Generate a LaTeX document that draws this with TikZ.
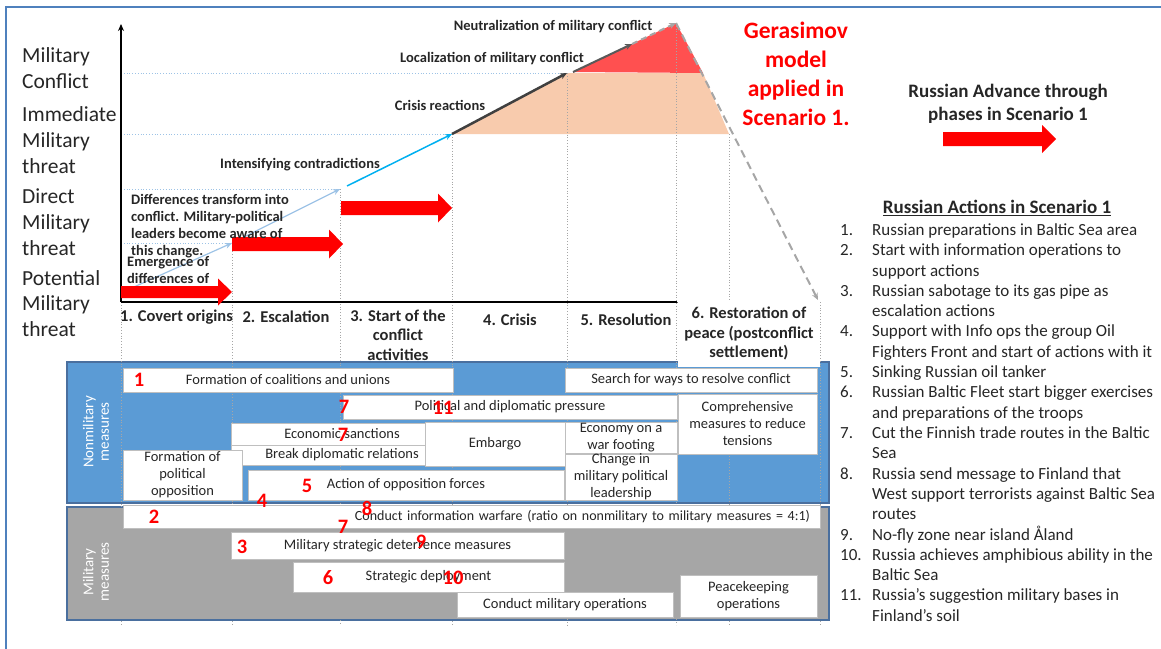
\documentclass[tikz,border=0pt]{standalone}
\usepackage{fontspec}
\setmainfont{Carlito}
\usepackage{tikz}
\usetikzlibrary{positioning,arrows.meta,shapes}
\definecolor{framec}{HTML}{4F81BD}
\definecolor{panelblue}{HTML}{5B9BD5}
\definecolor{panelgrey}{HTML}{A6A6A6}
\definecolor{panelline}{HTML}{4A6F9E}
\definecolor{boxline}{HTML}{BFBFBF}
\definecolor{txt}{HTML}{262626}
\definecolor{numred}{HTML}{FF0000}
\definecolor{advred}{HTML}{FF0000}
\definecolor{peach}{HTML}{F8CBAD}
\definecolor{tri}{HTML}{FF5050}
\definecolor{lblue}{HTML}{9DC3E6}
\definecolor{cyanar}{HTML}{00B0F0}
\definecolor{dgrey}{HTML}{404040}
\definecolor{mgrey}{HTML}{595959}
\definecolor{lgrey}{HTML}{A6A6A6}
\definecolor{hguidec}{HTML}{9DC3E6}
\definecolor{vguidec}{HTML}{A6A6A6}
\newcommand\fsz[2]{\fontsize{#1}{#2}\selectfont}
% fat red arrow: tail x, tip x, centre y, half shaft, half head
\newcommand\advarrow[5]{\fill[advred] (#1,#3-#4) -- (#2-14,#3-#4) -- (#2-14,#3-#5) -- (#2,#3) -- (#2-14,#3+#5) -- (#2-14,#3+#4) -- (#1,#3+#4) -- cycle;}

\begin{document}
\begin{tikzpicture}[x=1pt, y=-1pt, >={Stealth[width=6pt,length=7pt]},
	meas/.style={draw=boxline, fill=white, inner sep=0pt, align=center, text=txt, font=\fsz{14.5}{17}},
	num/.style={text=numred, font=\bfseries\fsz{20.5}{20}, inner sep=0pt},
	ylab/.style={anchor=base west, align=left, inner sep=0pt, text=txt, font=\fsz{21.5}{25.8}},
	phase/.style={align=center, inner sep=0pt, text=txt, font=\bfseries\fsz{16.5}{19.5}},
	chartlbl/.style={inner sep=0pt, text=txt, font=\bfseries\fsz{14.5}{17}},
	hguide/.style={dotted, draw=hguidec, line width=0.8pt},
	vguide/.style={dotted, draw=vguidec, line width=0.8pt},
	panel/.style={draw=panelline, line width=1.5pt}]
	\useasboundingbox (0,0) rectangle (1161,648);
	\draw[framec, line width=2.5pt] (6,7) rectangle (1175,662);
	% chart points
	\coordinate (origin) at (121,302);
	\coordinate (ytop) at (121,24);
	\coordinate (xmid) at (677,302);
	\coordinate (xend) at (820,302);
	\coordinate (p0) at (125,291);
	\coordinate (p1) at (232,243);
	\coordinate (p2) at (340,189);
	\coordinate (p3) at (347,186);
	\coordinate (p4) at (452,134);
	\coordinate (p5) at (567,73);
	\coordinate (p6) at (573,72);
	\coordinate (p7) at (632,44);
	\coordinate (p8) at (676,23);
	\coordinate (q1) at (703,73);
	\coordinate (q2) at (729,134);
	\coordinate (q3) at (818,300);
	\foreach \yy/\xx in {73/567,134/452,189/340,243/232}
		\draw[hguide] (121,\yy) -- (\xx,\yy);
	\fill[peach] (p4) -- (p5) -- (q1) -- (q2) -- cycle;
	\fill[tri] (p6) -- (p8) -- (q1) -- cycle;
	% panels
	\draw[panel, fill=panelblue] (67,362) rectangle (829,503);
	\draw[panel, fill=panelgrey] (67,507) rectangle (829,620);
	\foreach \xx/\yy in {121/302,232/243,340/189,452/134,567/73,676/23,729/134,820/302}
		\draw[vguide] (\xx,\yy) -- (\xx,625);
	% path of the conflict
	\draw[->, lblue, line width=1.2pt] (p0) -- (p1);
	\draw[->, lblue, line width=1.2pt] (p1) -- (p2);
	\draw[->, cyanar, line width=1.5pt] (p3) -- (p4);
	\draw[->, dgrey, line width=2.5pt] (p4) -- (p5);
	\draw[->, mgrey, line width=2pt] (p6) -- (p7);
	\draw[->, lgrey, line width=2pt, dash pattern=on 6pt off 4pt] (p7) -- (p8);
	\draw[->, lgrey, line width=2pt, dash pattern=on 8pt off 5pt] (p8) -- (q3);
	\draw[->, line width=1.8pt] (origin) -- (ytop);
	\draw[line width=2.5pt] (origin) -- (xmid);
	\draw[mgrey, line width=0.6pt] (xmid) -- (xend);
	% advance arrows
	\advarrow{121}{232}{292}{6}{13.5}
	\advarrow{232}{343}{244}{7}{14.5}
	\advarrow{341}{452}{208}{7}{14.5}
	\advarrow{943}{1056}{139}{7}{14}
	% threat levels
	\node[ylab] (conflict) at (22,88.3) {Military\\Conflict};
	\node[ylab] (immediate) at (22,173.3) {Immediate\\Military\\threat};
	\node[ylab] (direct) at (22,255) {Direct\\Military\\threat};
	\node[ylab] (potential) at (22,336.7) {Potential\\Military\\threat};
	% chart labels
	\node[chartlbl] (neutr) at (553,27) {Neutralization of military conflict};
	\node[chartlbl] (local) at (492,59) {Localization of military conflict};
	\node[chartlbl] (crisisr) at (440,105) {Crisis reactions};
	\node[chartlbl] (intens) at (300,165) {Intensifying contradictions};
	\node[chartlbl, anchor=north west, align=left] (differ) at (131,194) {Differences transform into\\conflict. Military-political\\leaders become aware of\\this change.};
	\node[chartlbl, anchor=north west, align=left] (emerg) at (127,256) {Emergence of\\differences of};
	% phases
	\node[phase] (ph1) at (176.5,317) {1. Covert origins};
	\node[phase] (ph2) at (286,317) {2. Escalation};
	\node[phase] (ph3) at (398,335) {3. Start of the\\conflict\\activities};
	\node[phase] (ph4) at (510,320) {4. Crisis};
	\node[phase] (ph5) at (626,320) {5. Resolution};
	\node[phase, fill=white, minimum width=142pt, minimum height=67pt] (ph6) at (749,333.5) {6. Restoration of\\peace (postconflict\\settlement)};
	% titles
	\node[align=center, text=numred, font=\bfseries\fsz{23.5}{29}] (gerasimov) at (796,73.5) {Gerasimov\\model\\applied in\\Scenario 1.};
	\node[align=center, text=txt, font=\bfseries\fsz{19}{23}] (advkey) at (1008,103.5) {Russian Advance through\\phases in Scenario 1};
	\node[text=txt, font=\bfseries\fsz{19}{20}] (acttitle) at (997,208) {\underline{Russian Actions in Scenario 1}};
	\node[anchor=north west, inner sep=0pt, text=txt, font=\fsz{17}{20.3}] (actlist) at (840,221) {%
		\begin{tabular}{@{}p{32pt}@{}l@{}}
		1. & Russian preparations in Baltic Sea area\\
		2. & Start with information operations to\\
		   & support actions\\
		3. & Russian sabotage to its gas pipe as\\
		   & escalation actions\\
		4. & Support with Info ops the group Oil\\
		   & Fighters Front and start of actions with it\\
		5. & Sinking Russian oil tanker\\
		6. & Russian Baltic Fleet start bigger exercises\\
		   & and preparations of the troops\\
		7. & Cut the Finnish trade routes in the Baltic\\
		   & Sea\\
		8. & Russia send message to Finland that\\
		   & West support terrorists against Baltic Sea\\
		   & routes\\
		9. & No-fly zone near island Åland\\
		10. & Russia achieves amphibious ability in the\\
		   & Baltic Sea\\
		11. & Russia’s suggestion military bases in\\
		   & Finland’s soil
		\end{tabular}};
	% panel labels
	\node[rotate=90, align=center, text=white, font=\fsz{15}{15.5}] (nonmil) at (96,432) {Nonmilitary\\measures};
	\node[rotate=90, align=center, text=white, font=\fsz{15}{15.5}] (mil) at (96,572) {Military\\measures};
	% nonmilitary measures
	\node[meas, minimum width=330pt, minimum height=24pt] (coal) at (288,380) {Formation of coalitions and unions};
	\node[meas, minimum width=252pt, minimum height=24pt] (search) at (691,380) {Search for ways to resolve conflict};
	\node[meas, minimum width=334pt, minimum height=24pt] (polit) at (510,407) {Political and diplomatic pressure};
	\node[meas, minimum width=139pt, minimum height=60pt] (compr) at (747.5,424) {Comprehensive\\measures to reduce\\tensions};
	\node[meas, minimum width=222pt, minimum height=22pt] (econ) at (342,434) {Economic sanctions};
	\node[meas, minimum width=222pt, minimum height=20pt] (break) at (342,455) {Break diplomatic relations};
	\node[meas, minimum width=140pt, minimum height=44pt] (embargo) at (495,444) {Embargo};
	\node[meas, minimum width=112pt, minimum height=31pt] (warfoot) at (621,437.5) {Economy on a\\war footing};
	\node[meas, minimum width=112pt, minimum height=44pt] (change) at (621,477) {Change in\\military political\\leadership};
	\node[meas, minimum width=119pt, minimum height=50pt] (formpol) at (182.5,475) {Formation of\\political\\opposition};
	\node[meas, minimum width=316pt, minimum height=30pt] (action) at (406,485) {Action of opposition forces};
	% military measures
	\node[meas, font=\fsz{14}{17}, minimum height=23pt, text width=677pt, inner xsep=10pt, align=right] (infowar) at (471.5,516.5) {Conduct information warfare (ratio on nonmilitary to military measures = 4:1)};
	\node[meas, minimum width=333pt, minimum height=27pt] (deter) at (397.5,545.5) {Military strategic deterrence measures};
	\node[meas, minimum width=271pt, minimum height=30pt] (deploy) at (428.5,577) {Strategic deployment};
	\node[meas, minimum width=216pt, minimum height=25pt] (milops) at (565,604.5) {Conduct military operations};
	\node[meas, minimum width=137pt, minimum height=42pt] (peace) at (748.5,596) {Peacekeeping\\operations};
	% scenario actions
	\node[num] (n1) at (139,380) {1};
	\node[num] (n7a) at (344,407) {7};
	\node[num] (n11) at (443,408) {11};
	\node[num] (n7b) at (343,435) {7};
	\node[num] (n5) at (307,486) {5};
	\node[num] (n4) at (262,501) {4};
	\node[num] (n8) at (367,508) {8};
	\node[num] (n2) at (154,517) {2};
	\node[num] (n7c) at (343,527) {7};
	\node[num] (n3) at (242,547) {3};
	\node[num] (n9) at (421,542) {9};
	\node[num] (n6) at (328,578) {6};
	\node[num] (n10) at (453,578) {10};
\end{tikzpicture}
\end{document}
